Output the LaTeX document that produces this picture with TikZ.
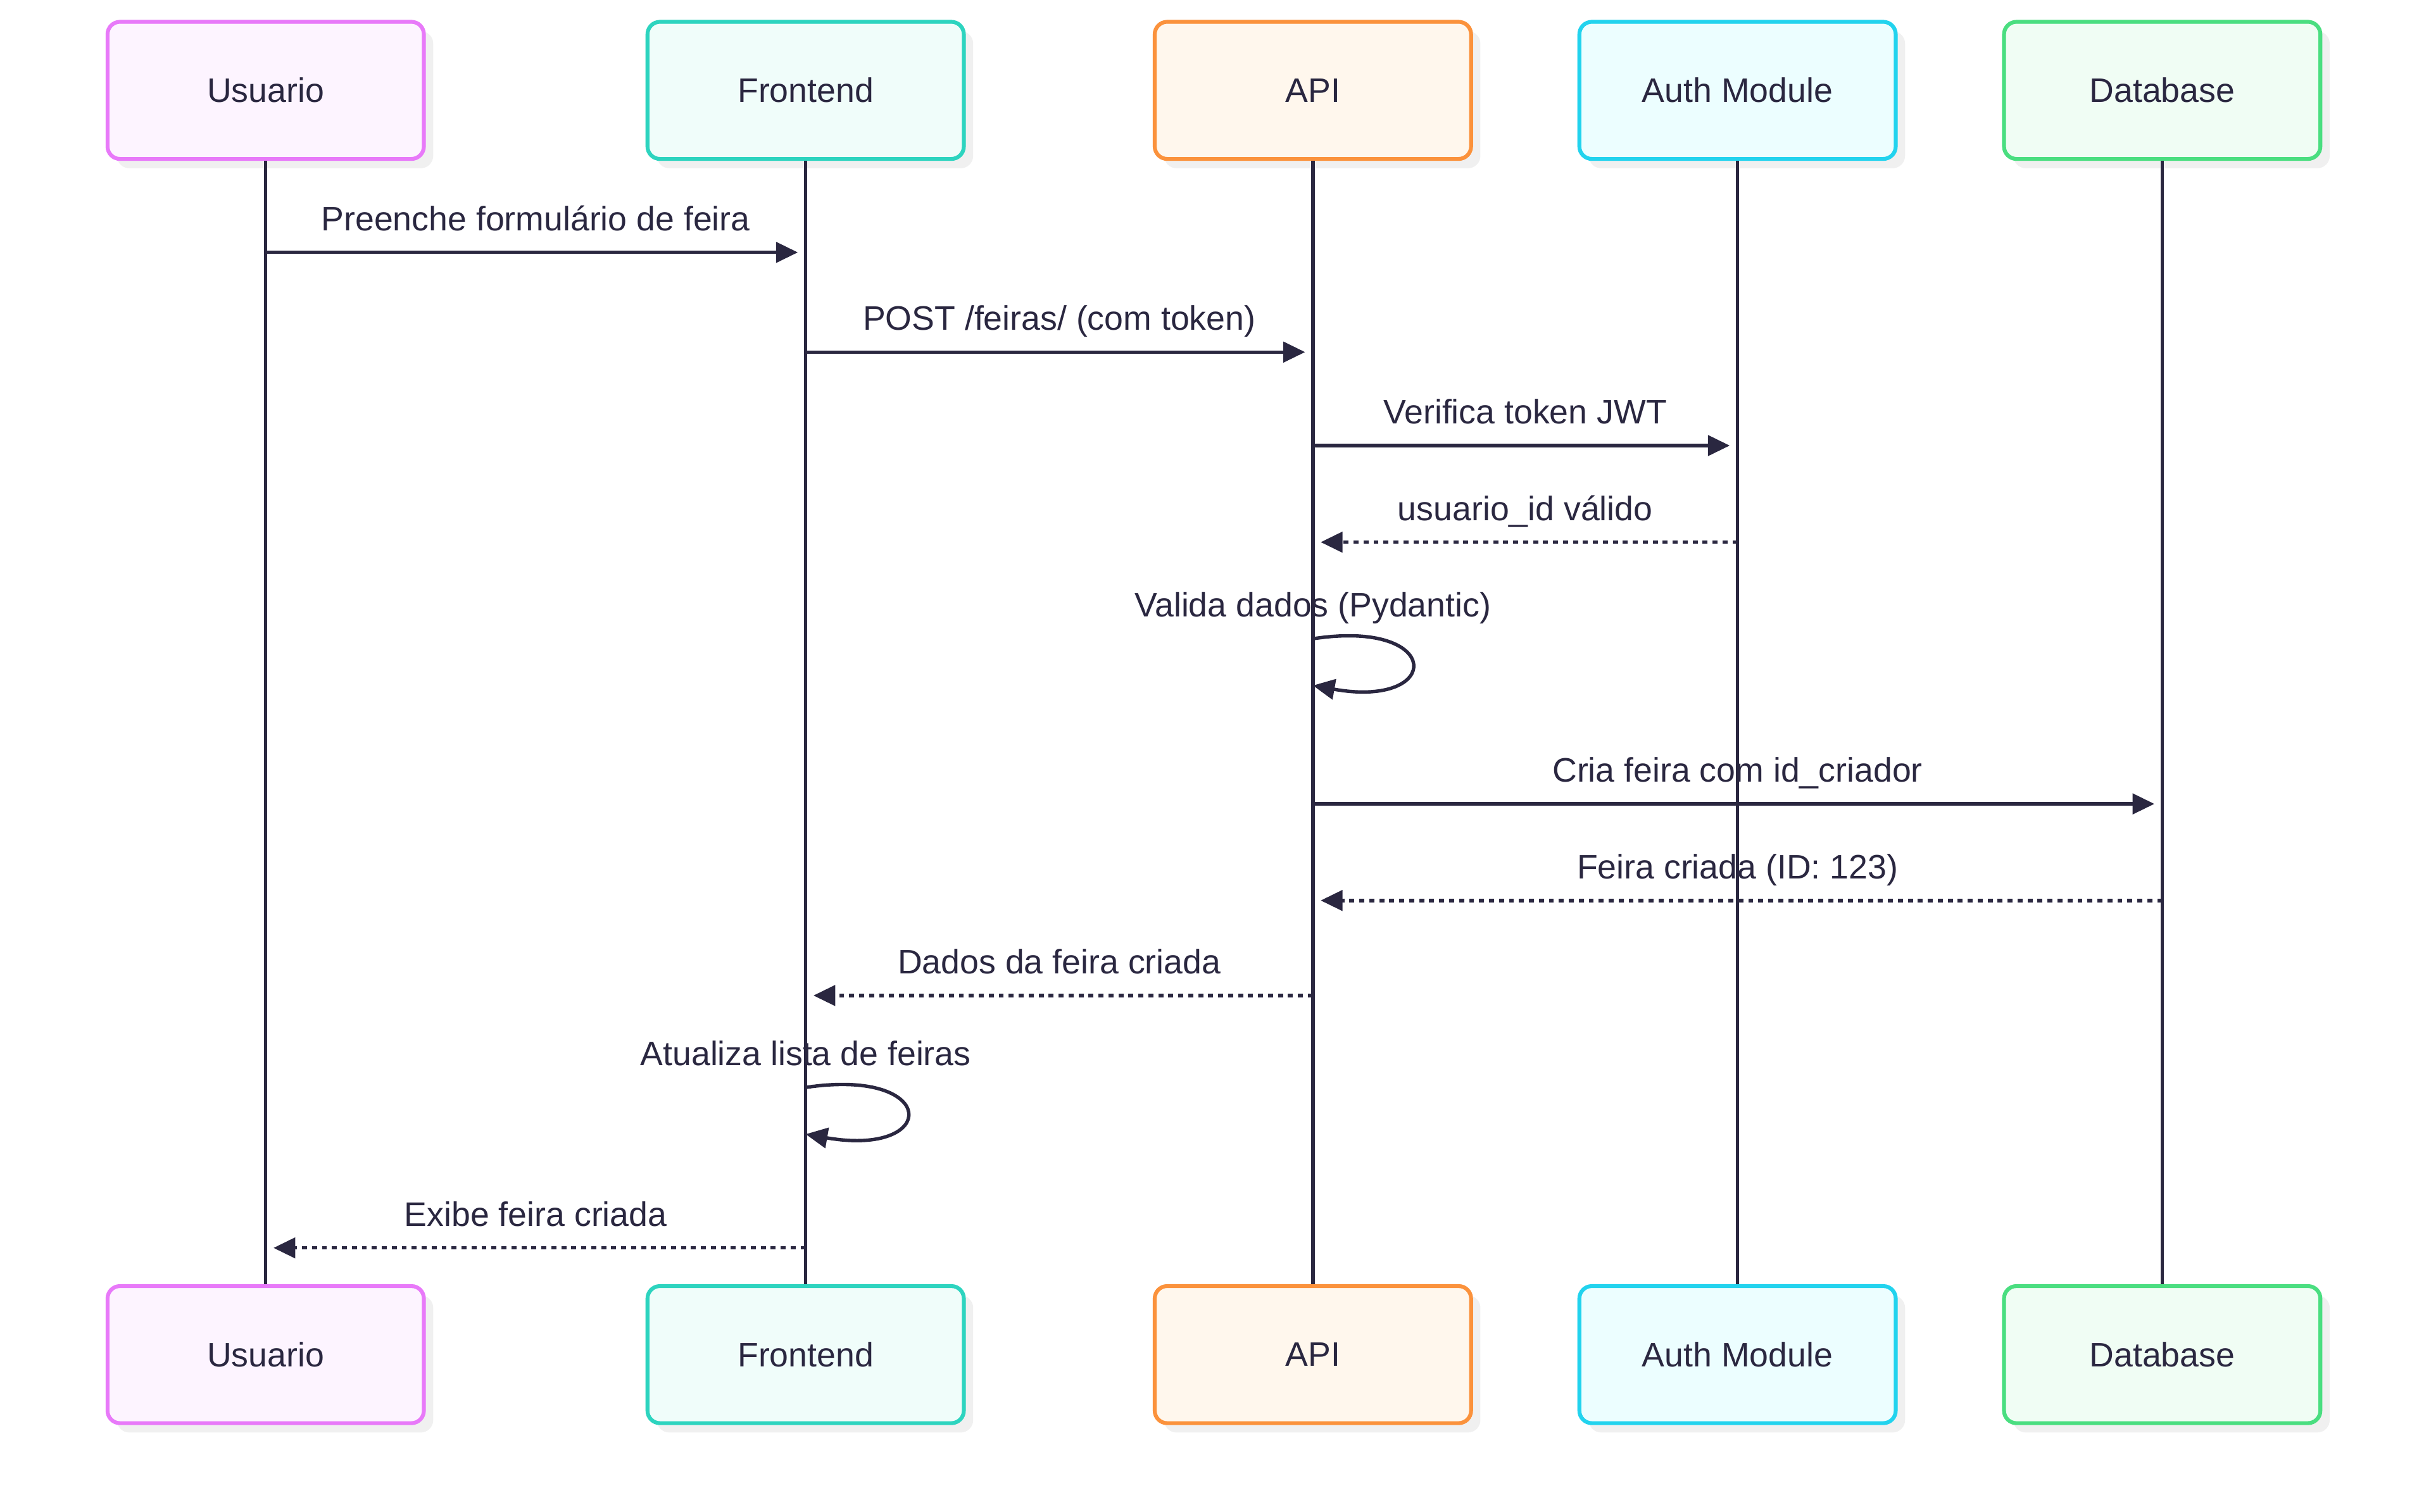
\documentclass[tikz,border=0pt]{standalone}
\usepackage{fontspec}
\setmainfont{Liberation Sans}
\usetikzlibrary{arrows.meta,positioning,shadows}

\definecolor{ink}{HTML}{2A2740}
\definecolor{ubord}{HTML}{E879F9}\definecolor{ufill}{HTML}{FDF4FF}
\definecolor{fbord}{HTML}{2DD4BF}\definecolor{ffill}{HTML}{F0FDFA}
\definecolor{abord}{HTML}{FB923C}\definecolor{afill}{HTML}{FFF7ED}
\definecolor{mbord}{HTML}{22D3EE}\definecolor{mfill}{HTML}{ECFEFF}
\definecolor{dbord}{HTML}{4ADE80}\definecolor{dfill}{HTML}{F0FDF4}

\begin{document}
\begin{tikzpicture}[x=0.5pt,y=-0.5pt,
font=\fontsize{10.9}{13}\selectfont, text=ink,
actor/.style={draw, rounded corners=4pt, line width=1.25pt, minimum width=101.5pt, minimum height=44pt,
  drop shadow={shadow xshift=3pt,shadow yshift=-3pt,fill=black!6,opacity=1}},
life/.style={ink, line width=1.1pt},
msg/.style={ink, line width=1.1pt, -{Triangle[length=7pt,width=6.5pt]}, shorten >=2.5pt},
reply/.style={msg, dash pattern=on 1.6pt off 1.6pt},
lbl/.style={anchor=base, yshift=7pt, inner sep=0pt}
]
\useasboundingbox (0,0) rectangle (1560,970.5);

% participants
\node[actor, draw=ubord, fill=ufill] (u1) at (170.5,58) {Usuario};
\node[actor, draw=fbord, fill=ffill, right = 70.5pt of u1] (f1) {Frontend};
\node[actor, draw=abord, fill=afill, right = 60pt of f1] (a1) {API};
\node[actor, draw=mbord, fill=mfill, right = 33.5pt of a1] (m1) {Auth Module};
\node[actor, draw=dbord, fill=dfill, right = 33.5pt of m1] (d1) {Database};

\node[actor, draw=ubord, fill=ufill, below = 360.5pt of u1] (u2) {Usuario};
\node[actor, draw=fbord, fill=ffill, below = 360.5pt of f1] (f2) {Frontend};
\node[actor, draw=abord, fill=afill, below = 360.5pt of a1] (a2) {API};
\node[actor, draw=mbord, fill=mfill, below = 360.5pt of m1] (m2) {Auth Module};
\node[actor, draw=dbord, fill=dfill, below = 360.5pt of d1] (d2) {Database};

% lifelines
\draw[life] (u1) -- (u2);
\draw[life] (f1) -- (f2);
\draw[life] (a1) -- (a2);
\draw[life] (m1) -- (m2);
\draw[life] (d1) -- (d2);

% message rows
\coordinate (r1) at (0,162);
\coordinate (r2) at (0,226);
\coordinate (r3) at (0,286);
\coordinate (r4) at (0,348);
\coordinate (r5) at (0,410);
\coordinate (r5e) at (0,440);
\coordinate (r6) at (0,516);
\coordinate (r7) at (0,578);
\coordinate (r8) at (0,639);
\coordinate (r9) at (0,698);
\coordinate (r9e) at (0,728);
\coordinate (r10) at (0,801);

\draw[msg] (u1 |- r1) -- node[lbl] (l1) {Preenche formulário de feira} (f1 |- r1);
\draw[msg] (f1 |- r2) -- node[lbl] (l2) {POST /feiras/ (com token)} (a1 |- r2);
\draw[msg] (a1 |- r3) -- node[lbl] (l3) {Verifica token JWT} (m1 |- r3);
\draw[reply] (m1 |- r4) -- node[lbl] (l4) {usuario\_id válido} (a1 |- r4);
\draw[msg, shorten >=0pt] (a1 |- r5) .. controls +(84,-13) and +(84,15) .. (a1 |- r5e);
\node[lbl] (l5) at (a1 |- r5) {Valida dados (Pydantic)};
\draw[msg] (a1 |- r6) -- node[lbl] (l6) {Cria feira com id\_criador} (d1 |- r6);
\draw[reply] (d1 |- r7) -- node[lbl] (l7) {Feira criada (ID: 123)} (a1 |- r7);
\draw[reply] (a1 |- r8) -- node[lbl] (l8) {Dados da feira criada} (f1 |- r8);
\draw[msg, shorten >=0pt] (f1 |- r9) .. controls +(86,-13) and +(86,15) .. (f1 |- r9e);
\node[lbl] (l9) at (f1 |- r9) {Atualiza lista de feiras};
\draw[reply] (f1 |- r10) -- node[lbl] (l10) {Exibe feira criada} (u1 |- r10);
\end{tikzpicture}
\end{document}
